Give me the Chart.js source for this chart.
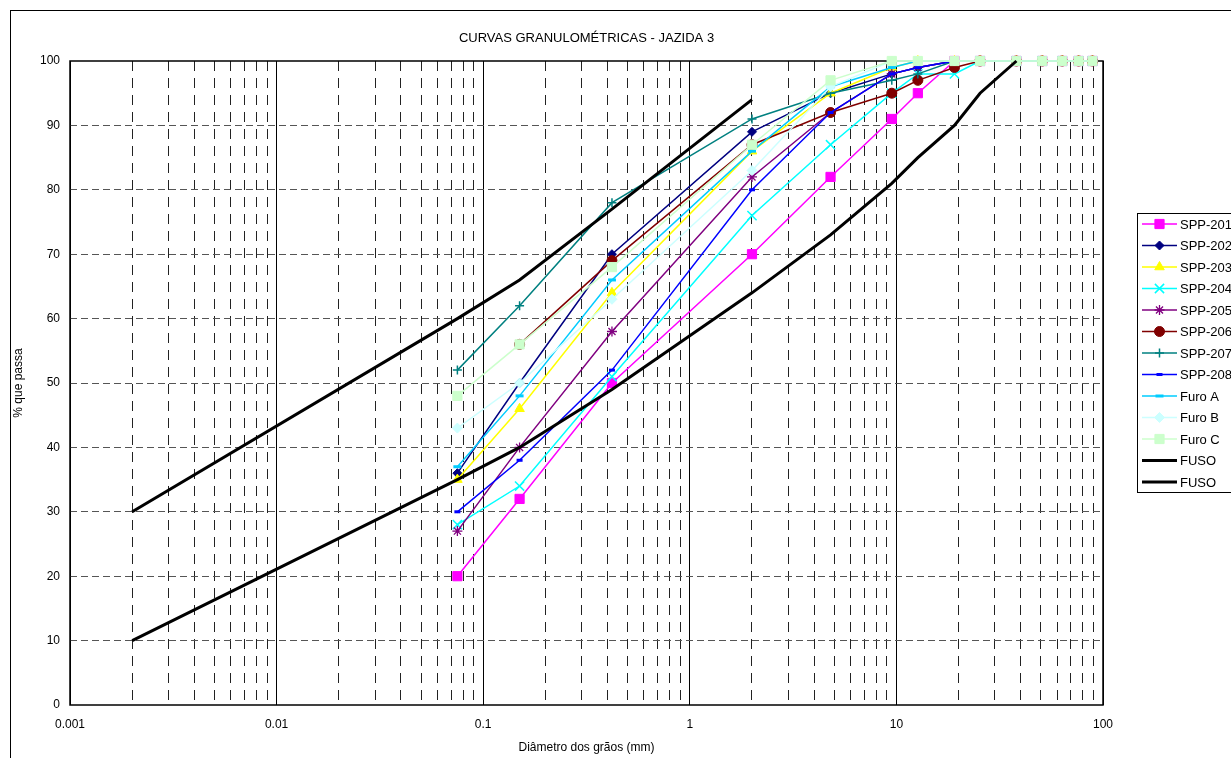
<!DOCTYPE html>
<html lang="pt">
<head>
<meta charset="UTF-8">
<title>Curvas granulométricas - Jazida 3</title>
<script src="https://cdn.jsdelivr.net/npm/chart.js"></script>
<style>
  html, body { margin: 0; padding: 0; background: #fff; overflow: hidden; }
  canvas { display: block; }
</style>
</head>
<body>
<canvas id="granChart" width="1231" height="758"></canvas>
<script>
// sieve openings (mm)
const sieves = [0.075, 0.15, 0.42, 2.0, 4.8, 9.5, 12.7, 19.1, 25.4, 38.1, 50.8, 63.5, 76.2, 88.9];

// % passing for each sample
const spp201 = [20, 32, 50, 70, 82, 91, 95, 100, 100, 100, 100, 100, 100, 100];
const spp202 = [36, 50, 70, 89, 95, 98, 99, 100, 100, 100, 100, 100, 100, 100];
const spp203 = [35, 46, 64, 86, 95, 99, 100, 100, 100, 100, 100, 100, 100, 100];
const spp204 = [28, 34, 51, 76, 87, 95, 98, 98, 100, 100, 100, 100, 100, 100];
const spp205 = [27, 40, 58, 82, 92, 98, 99, 100, 100, 100, 100, 100, 100, 100];
const spp206 = [null, 56, 69, 87, 92, 95, 97, 99, 100, 100, 100, 100, 100, 100];
const spp207 = [52, 62, 78, 91, 95, 97, 98, 100, 100, 100, 100, 100, 100, 100];
const spp208 = [30, 38, 52, 80, 92, 98, 99, 100, 100, 100, 100, 100, 100, 100];
const furoA  = [37, 48, 66, 86, 96, 99, 100, 100, 100, 100, 100, 100, 100, 100];
const furoB  = [43, 50, 63, 83, 96, 100, 100, 100, 100, 100, 100, 100, 100, 100];
const furoC  = [48, 56, 68, 87, 97, 100, 100, 100, 100, 100, 100, 100, 100, 100];

// grading envelope (fuso)
const fusoSupX = [0.002, 0.075, 0.15, 0.42, 2.0];
const fusoSupY = [30, 60, 66, 77, 94];
const fusoInfX = [0.002, 0.075, 0.15, 0.42, 2.0, 4.8, 9.5, 12.7, 19.1, 25.4, 38.1];
const fusoInfY = [10, 35, 40, 49, 64, 73, 81, 85, 90, 95, 100];

const yTicks = [0, 10, 20, 30, 40, 50, 60, 70, 80, 90, 100];
const decades = [0.001, 0.01, 0.1, 1, 10, 100];

const FONT = "Arial, 'Liberation Sans', sans-serif";
const TITLE = 'CURVAS GRANULOMÉTRICAS - JAZIDA 3';

function toPoints(xs, ys) {
    return xs.map((x, i) => ({ x: x, y: ys[i] }));
}

function serie(label, values, color, style, radius, pbw) {
    return {
        label: label,
        data: toPoints(sieves, values),
        borderColor: color,
        backgroundColor: color,
        borderWidth: 1.5,
        pointStyle: style,
        pointRadius: radius,
        pointBackgroundColor: color,
        pointBorderColor: color,
        pointBorderWidth: pbw || 1,
        tension: 0,
        clip: false
    };
}

function fuso(xs, ys) {
    return {
        label: 'FUSO',
        data: toPoints(xs, ys),
        borderColor: '#000000',
        backgroundColor: '#000000',
        borderWidth: 3,
        pointRadius: 0,
        tension: 0,
        clip: false
    };
}

const datasets = [
    serie('SPP-201', spp201, '#FF00FF', 'rect', 6.5),
    serie('SPP-202', spp202, '#000080', 'rectRot', 4.5),
    serie('SPP-203', spp203, '#FFFF00', 'triangle', 5.5),
    serie('SPP-204', spp204, '#00FFFF', 'crossRot', 6.5, 1.5),
    serie('SPP-205', spp205, '#800080', 'star', 5, 1.3),
    serie('SPP-206', spp206, '#800000', 'circle', 5),
    serie('SPP-207', spp207, '#008080', 'cross', 4.5, 1.5),
    serie('SPP-208', spp208, '#0000FF', 'line', 3, 3),
    serie('Furo A', furoA, '#00CCFF', 'line', 4, 3),
    serie('Furo B', furoB, '#CCFFFF', 'rectRot', 5),
    serie('Furo C', furoC, '#CCFFCC', 'rect', 6.5),
    fuso(fusoSupX, fusoSupY),
    fuso(fusoInfX, fusoInfY)
];
// later series on top, like the spreadsheet
datasets.forEach((d, i) => { d.order = datasets.length - i; });

function isDecade(v) {
    const l = Math.log10(v);
    return Math.abs(l - Math.round(l)) < 1e-9;
}

function logTicks() {
    const t = [];
    for (let e = -3; e <= 1; e++) {
        for (let m = 1; m <= 9; m++) t.push({ value: +(m * Math.pow(10, e)).toPrecision(6) });
    }
    t.push({ value: 100 });
    return t;
}

// title, frame, outer border and legend
const framePlugin = {
    id: 'framePlugin',
    beforeDraw(chart) {
        const ctx = chart.ctx, a = chart.chartArea;
        ctx.save();
        ctx.fillStyle = '#ffffff';
        ctx.fillRect(0, 0, chart.width, chart.height);
        ctx.strokeStyle = '#000000';
        ctx.lineWidth = 1;
        ctx.strokeRect(10.5, 10.5, chart.width + 40, chart.height + 40);
        ctx.fillStyle = '#000000';
        ctx.font = '13px ' + FONT;
        ctx.textAlign = 'center';
        ctx.textBaseline = 'middle';
        ctx.fillText(TITLE, (a.left + a.right) / 2, 38);
        ctx.restore();
    },
    beforeDatasetsDraw(chart) {
        const ctx = chart.ctx, a = chart.chartArea;
        ctx.save();
        ctx.strokeStyle = '#000000';
        ctx.lineWidth = 1.5;
        ctx.strokeRect(a.left, a.top, a.right - a.left, a.bottom - a.top);
        ctx.restore();
    },
    afterDraw(chart) {
        const ctx = chart.ctx;
        const lx = 1137, ly = 213, rowH = 21.5;
        ctx.save();
        ctx.strokeStyle = '#000000';
        ctx.lineWidth = 1;
        ctx.strokeRect(lx + 0.5, ly + 0.5, 200, 279);
        chart.data.datasets.forEach((ds, i) => {
            const y = ly + 11 + i * rowH;
            ctx.strokeStyle = ds.borderColor;
            ctx.lineWidth = ds.borderWidth;
            ctx.beginPath();
            ctx.moveTo(lx + 5, y);
            ctx.lineTo(lx + 40, y);
            ctx.stroke();
            if (ds.pointRadius > 0) {
                ctx.fillStyle = ds.pointBackgroundColor;
                ctx.strokeStyle = ds.pointBorderColor;
                ctx.lineWidth = ds.pointBorderWidth;
                Chart.helpers.drawPoint(ctx, {
                    pointStyle: ds.pointStyle,
                    radius: ds.pointRadius,
                    rotation: 0,
                    borderWidth: ds.pointBorderWidth
                }, lx + 22.5, y);
            }
            ctx.fillStyle = '#000000';
            ctx.font = '13px ' + FONT;
            ctx.textBaseline = 'middle';
            ctx.textAlign = 'left';
            ctx.fillText(ds.label, lx + 43, y + 1);
        });
        ctx.restore();
    }
};

const ctx = document.getElementById('granChart').getContext('2d');
new Chart(ctx, {
    type: 'line',
    data: { datasets: datasets },
    plugins: [framePlugin],
    options: {
        responsive: false,
        animation: false,
        layout: { padding: { left: 0, right: 128, top: 61, bottom: 0 } },
        plugins: {
            legend: { display: false },
            tooltip: { enabled: false },
            title: { display: false }
        },
        scales: {
            x: {
                type: 'logarithmic',
                min: 0.001,
                max: 100,
                afterBuildTicks: s => { s.ticks = logTicks(); },
                afterFit: s => { s.height = 53; },
                ticks: {
                    autoSkip: false,
                    maxRotation: 0,
                    color: '#000000',
                    font: { family: FONT, size: 12 },
                    padding: 12,
                    callback: v => isDecade(v) ? String(v) : ''
                },
                grid: {
                    drawTicks: false,
                    color: c => (c.tick && isDecade(c.tick.value)) ? 'rgba(0,0,0,0)' : '#222222',
                    lineWidth: 1
                },
                border: { display: false, dash: [10, 7] },
                title: {
                    display: true,
                    text: 'Diâmetro dos grãos (mm)',
                    color: '#000000',
                    font: { family: FONT, size: 12 },
                    padding: { top: 4, bottom: 3 }
                }
            },
            xMajor: {
                type: 'logarithmic',
                position: 'bottom',
                min: 0.001,
                max: 100,
                afterBuildTicks: s => { s.ticks = decades.map(v => ({ value: v })); },
                afterFit: s => { s.height = 0; },
                ticks: { display: false },
                grid: { drawTicks: false, color: '#000000', lineWidth: 1 },
                border: { display: false }
            },
            y: {
                min: 0,
                max: 100,
                afterBuildTicks: s => { s.ticks = yTicks.map(v => ({ value: v })); },
                afterFit: s => { s.width = 70; },
                ticks: {
                    color: '#000000',
                    font: { family: FONT, size: 12 },
                    padding: 10
                },
                grid: {
                    drawTicks: false,
                    color: c => (c.tick && (c.tick.value === 0 || c.tick.value === 100)) ? 'rgba(0,0,0,0)' : '#555555',
                    lineWidth: 1
                },
                border: { display: false, dash: [7, 4] },
                title: {
                    display: true,
                    text: '% que passa',
                    color: '#000000',
                    font: { family: FONT, size: 12 },
                    padding: { top: 11, bottom: 4 }
                }
            }
        }
    }
});
</script>
</body>
</html>
